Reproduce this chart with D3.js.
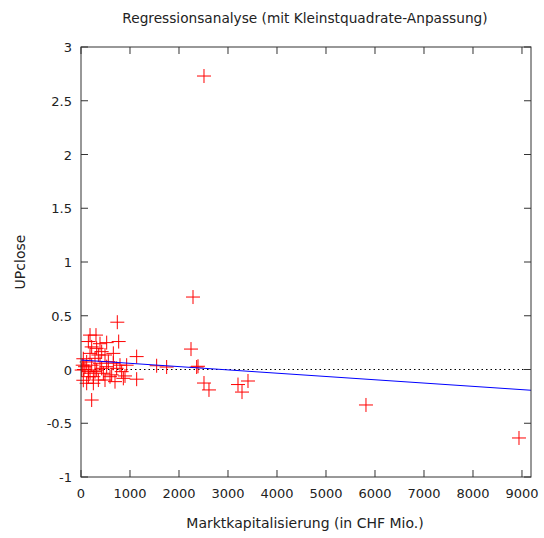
<!DOCTYPE html>
<html>
<head>
<meta charset="utf-8">
<script src="https://cdn.jsdelivr.net/npm/d3@7"></script>
<style>
  body { margin: 0; background: #fff; }
  text { font-family: "DejaVu Sans", Verdana, sans-serif; fill: #222; }
</style>
</head>
<body>
<svg id="chart"></svg>
<script>
// Marktkapitalisierung (CHF Mio.) und UPclose
var capValues = [2510, 2286, 2245, 2388, 2510, 2612, 3204, 3286, 3408, 5816, 8939,
  1136, 1544, 1748, 2361, 1136, 741, 769, 306, 184, 150, 388, 524, 660,
  218, 60, 898, 626, 796,
  47, 47, 82, 116, 150, 184, 218, 252, 286, 320, 354, 388, 422, 456, 490, 524, 558,
  592, 694, 728, 830, 864, 14, 35, 116, 252, 354, 218, 320, 490, 286, 184, 422, 150, 660, 932];
var upValues = [2.73, 0.674, 0.19, 0.03, -0.126, -0.19, -0.14, -0.21, -0.107, -0.33, -0.637,
  0.12, 0.035, 0.023, 0.023, -0.09, 0.44, 0.26, 0.32, 0.32, 0.26, 0.24, 0.25, 0.15,
  -0.284, 0, -0.06, -0.05, 0.04,
  0.10, -0.10, 0.026, 0.07, -0.02, 0.15, 0.04, -0.067, 0.104, -0.005, -0.098, 0.058, 0.166, -0.035, -0.098, 0.026, 0.073,
  -0.067, -0.113, 0.011, -0.02, -0.082, -0.005, 0.04, -0.128, -0.128, 0.135, 0.21, 0.197, 0.135, -0.02, -0.035, 0.011, -0.067, 0.058, 0.04];

var xTicks = [0, 1000, 2000, 3000, 4000, 5000, 6000, 7000, 8000, 9000];
var yTicks = [-1, -0.5, 0, 0.5, 1, 1.5, 2, 2.5, 3];
var xMax = 9184;
// Regressionsgerade
var fitIntercept = 0.088;
var fitSlope = -3.06e-5;

var width = 544, height = 538;
var margin = {left: 81, right: 13, top: 47, bottom: 61};

var svg = d3.select("#chart").attr("width", width).attr("height", height);

var x = d3.scaleLinear().domain([0, xMax]).range([margin.left, width - margin.right]);
var y = d3.scaleLinear().domain([-1, 3]).range([height - margin.bottom, margin.top]);

var tickLen = 7;
var g = svg.append("g");

// Nulllinie gepunktet
g.append("line")
  .attr("x1", x(0)).attr("x2", x(xMax))
  .attr("y1", y(0)).attr("y2", y(0))
  .style("stroke", "#000")
  .style("stroke-width", "1px")
  .style("stroke-dasharray", "1.5,3");

// Ticks innen, alle vier Seiten
g.selectAll("line.xb").data(xTicks).enter().append("line")
  .attr("x1", function(d){ return x(d); }).attr("x2", function(d){ return x(d); })
  .attr("y1", y(-1)).attr("y2", y(-1) - tickLen)
  .style("stroke", "#333");
g.selectAll("line.xt").data(xTicks).enter().append("line")
  .attr("x1", function(d){ return x(d); }).attr("x2", function(d){ return x(d); })
  .attr("y1", y(3)).attr("y2", y(3) + tickLen)
  .style("stroke", "#333");
g.selectAll("line.yl").data(yTicks).enter().append("line")
  .attr("x1", x(0)).attr("x2", x(0) + tickLen)
  .attr("y1", function(d){ return y(d); }).attr("y2", function(d){ return y(d); })
  .style("stroke", "#333");
g.selectAll("line.yr").data(yTicks).enter().append("line")
  .attr("x1", x(xMax)).attr("x2", x(xMax) - tickLen)
  .attr("y1", function(d){ return y(d); }).attr("y2", function(d){ return y(d); })
  .style("stroke", "#333");

// Tick-Beschriftungen
g.selectAll("text.xl").data(xTicks).enter().append("text")
  .attr("x", function(d){ return x(d); })
  .attr("y", y(-1) + 21)
  .attr("text-anchor", "middle")
  .style("font-size", "13px")
  .text(function(d){ return d; });
g.selectAll("text.yl").data(yTicks).enter().append("text")
  .attr("x", x(0) - 9)
  .attr("y", function(d){ return y(d) + 5; })
  .attr("text-anchor", "end")
  .style("font-size", "13px")
  .text(function(d){ return d; });

// Punkte als Kreuze
var pts = d3.range(capValues.length);
var cs = 7;
var crosses = g.selectAll("g.pt").data(pts).enter().append("g")
  .attr("transform", function(i){ return "translate(" + x(capValues[i]) + "," + y(upValues[i]) + ")"; });
crosses.append("line").attr("x1", -cs).attr("x2", cs).attr("y1", 0).attr("y2", 0)
  .style("stroke", "#ff0000").style("stroke-width", "1px");
crosses.append("line").attr("x1", 0).attr("x2", 0).attr("y1", -cs).attr("y2", cs)
  .style("stroke", "#ff0000").style("stroke-width", "1px");

// Regressionsgerade
g.append("line")
  .attr("x1", x(0)).attr("y1", y(fitIntercept))
  .attr("x2", x(xMax)).attr("y2", y(fitIntercept + fitSlope * xMax))
  .style("stroke", "#0000ff")
  .style("stroke-width", "1px");

// Rahmen
g.append("rect")
  .attr("x", x(0)).attr("y", y(3))
  .attr("width", x(xMax) - x(0)).attr("height", y(-1) - y(3))
  .style("fill", "none").style("stroke", "#333").style("stroke-width", "1px");

// Titel und Achsentitel
svg.append("text")
  .attr("x", 305).attr("y", 23)
  .attr("text-anchor", "middle")
  .style("font-size", "13.7px")
  .text("Regressionsanalyse (mit Kleinstquadrate-Anpassung)");
svg.append("text")
  .attr("x", 305).attr("y", 528)
  .attr("text-anchor", "middle")
  .style("font-size", "14px")
  .text("Marktkapitalisierung (in CHF Mio.)");
svg.append("text")
  .attr("transform", "translate(25," + y(1) + ") rotate(-90)")
  .attr("text-anchor", "middle")
  .style("font-size", "14px")
  .text("UPclose");
</script>
</body>
</html>
